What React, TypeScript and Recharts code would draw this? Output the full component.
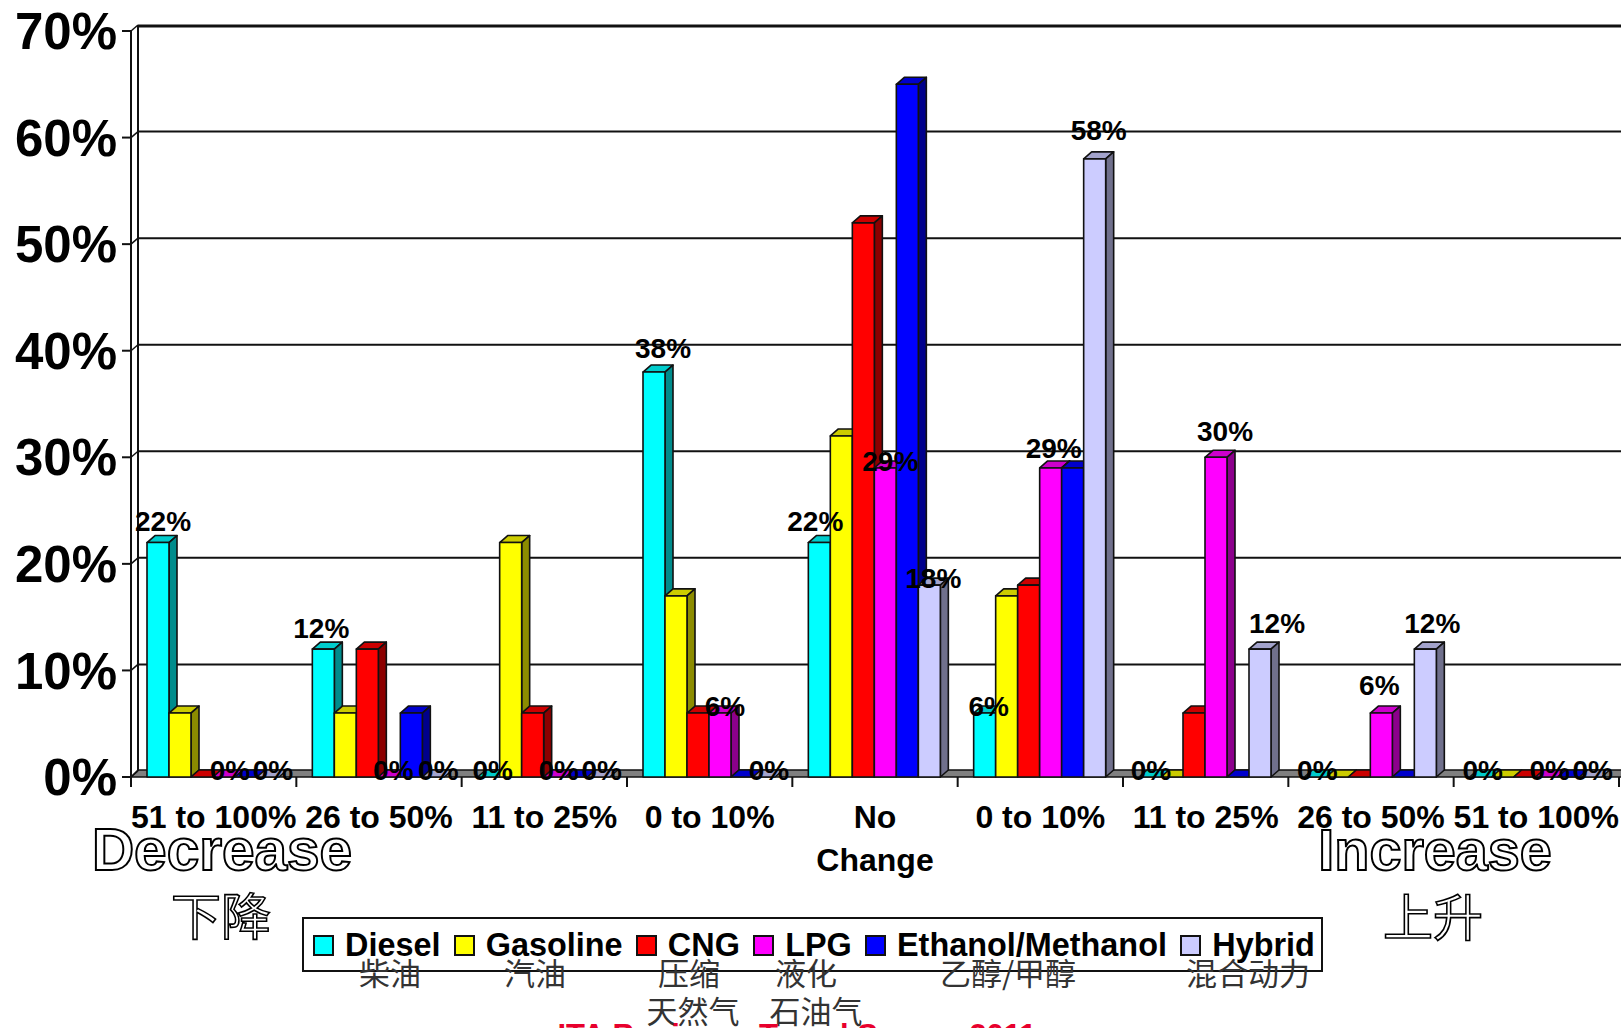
import React from 'react';
import { BarChart, Bar, XAxis, YAxis, CartesianGrid, Legend, LabelList } from 'recharts';

const bands = ['51 to 100%', '26 to 50%', '11 to 25%', '0 to 10%', 'No Change', '0 to 10%', '11 to 25%', '26 to 50%', '51 to 100%'];
const diesel = [22, 12, 0, 38, 22, 6, 0, 0, 0];
const gasoline = [6, 6, 22, 17, 32, 17, 0, 0, 0];
const cng = [0, 12, 6, 6, 52, 18, 6, 0, 0];
const lpg = [0, 0, 0, 6, 29, 29, 30, 6, 0];
const ethanol = [0, 6, 0, 0, 65, 29, 0, 0, 0];
const hybrid = [0, 0, 0, 0, 18, 58, 12, 12, 0];
const yTicks = [0, 10, 20, 30, 40, 50, 60, 70];

const chartData = bands.map((band, i) => ({
  band,
  diesel: diesel[i],
  gasoline: gasoline[i],
  cng: cng[i],
  lpg: lpg[i],
  ethanol: ethanol[i],
  hybrid: hybrid[i],
}));

const ARIAL = '"Liberation Sans", Arial, sans-serif';
const CJK = '"Noto Sans CJK SC", sans-serif';
const DX = 8;
const DY = 7;
const WALL_DY = 6;
const PLOT_TOP = 31;
const PLOT_BOTTOM = 777;
const BAND = (1621 - 2 - 131) / bands.length;
const BAR_SHIFT = -1;

// the labels in the original were placed by hand, so each one carries its own nudge
const labelLift: Record<string, number[]> = {
  diesel: [21, 21, 7, 24, 21, 7, 7, 7, 7],
  lpg: [7, 7, 7, 7, 6, 19, 26, 28, 7],
  hybrid: [7, 7, 7, 7, 7, 28, 26, 26, 7],
};
const labelNudge: Record<string, number[]> = {
  diesel: [5, -2, 4, 9, -4, 4, 1, 2, 2],
  lpg: [6, 4, 4, 5, 5, 3, 9, -2, 3],
  hybrid: [5, 5, 3, 5, 4, 4, 17, 7, 2],
};

const shade = (hex: string, k: number) => {
  const n = parseInt(hex.slice(1), 16);
  const c = [(n >> 16) & 255, (n >> 8) & 255, n & 255].map((v) => Math.round(v * k));
  return `rgb(${c[0]},${c[1]},${c[2]})`;
};

const Bar3D = (props: any) => {
  const { y, width, height, fill } = props;
  const x = props.x + BAR_SHIFT;
  return (
    <g stroke="#111" strokeWidth={1.6} strokeLinejoin="round">
      <polygon
        points={`${x},${y} ${x + DX},${y - DY} ${x + width + DX},${y - DY} ${x + width},${y}`}
        fill={shade(fill, 0.8)}
      />
      {height > 0 && (
        <>
          <polygon
            points={`${x + width},${y} ${x + width + DX},${y - DY} ${x + width + DX},${y + height - DY} ${x + width},${y + height}`}
            fill={shade(fill, 0.55)}
          />
          <rect x={x} y={y} width={width} height={height} fill={fill} />
        </>
      )}
    </g>
  );
};

// back wall lines, joined to the axis by a short diagonal, the floor goes in with the 0% line
const WallLine = (props: any) => {
  const { x1, x2, y1 } = props;
  const bx = x1 + DX - 1;
  const by = y1 - WALL_DY;
  const isFloor = Math.abs(y1 - PLOT_BOTTOM) < 2;
  const isTop = Math.abs(y1 - PLOT_TOP) < 2;
  return (
    <g>
      {isFloor && (
        <>
          <polygon points={`${x1},${y1} ${bx},${y1 - DY} ${x2 + 4},${y1 - DY} ${x2 + 4},${y1}`} fill="#808080" stroke="#111" strokeWidth={1.5} />
          <line x1={bx} y1={by} x2={bx} y2={PLOT_TOP - WALL_DY} stroke="#111" strokeWidth={2} />
        </>
      )}
      <line x1={x1} y1={y1} x2={bx} y2={by} stroke="#111" strokeWidth={1.5} />
      {!isFloor && <line x1={bx} y1={by + (isTop ? 1 : 0)} x2={x2 + 4} y2={by + (isTop ? 1 : 0)} stroke="#111" strokeWidth={isTop ? 3 : 2} />}
    </g>
  );
};

const BandTick = (props: any) => {
  const { x, payload, index } = props;
  const lines = payload.value === 'No Change' ? ['No', 'Change'] : [payload.value];
  const left = x - BAND / 2;
  return (
    <g>
      <line x1={left} y1={PLOT_BOTTOM} x2={left} y2={PLOT_BOTTOM + 10} stroke="#111" strokeWidth={2} />
      {index === bands.length - 1 && (
        <line x1={left + BAND} y1={PLOT_BOTTOM} x2={left + BAND} y2={PLOT_BOTTOM + 10} stroke="#111" strokeWidth={2} />
      )}
      <text x={x} textAnchor="middle" fontFamily={ARIAL} fontWeight="bold" fontSize={32} fill="#000">
        {lines.map((line: string, i: number) => (
          <tspan key={i} x={x} y={PLOT_BOTTOM + 51 + i * 43}>
            {line}
          </tspan>
        ))}
      </text>
    </g>
  );
};

const makeLabel = (key: string) => (props: any) => {
  const { x, y, width, value, index } = props;
  return (
    <text
      x={x + BAR_SHIFT + width / 2 + labelNudge[key][index]}
      y={y - labelLift[key][index]}
      textAnchor="middle"
      dominantBaseline="central"
      fontFamily={ARIAL}
      fontWeight="bold"
      fontSize={28}
      fill="#000"
    >
      {value}%
    </text>
  );
};

const LegendBox = ({ payload }: any) => (
  <div
    style={{
      boxSizing: 'border-box',
      width: 1021,
      height: 55,
      border: '2px solid #111',
      background: '#fff',
      display: 'flex',
      alignItems: 'center',
      paddingLeft: 9,
      paddingTop: 2,
      gap: 13.3,
      fontFamily: ARIAL,
      fontWeight: 'bold',
      fontSize: 32.4,
      color: '#000',
    }}
  >
    {(payload || []).map((item: any) => (
      <div key={item.value} style={{ display: 'flex', alignItems: 'center', gap: 11 }}>
        <span style={{ width: 21, height: 21, background: item.color, border: '2px solid #111', boxSizing: 'border-box' }} />
        <span>{item.value}</span>
      </div>
    ))}
  </div>
);

const outlined = { fill: '#fff', stroke: '#000', strokeWidth: 2 };
const zhOutlined = { fill: '#fff', stroke: '#000', strokeWidth: 1.6 };
const zhNote = { fontFamily: CJK, fontSize: 31, fill: '#333', textAnchor: 'middle' as const };

export default function App() {
  return (
    <div style={{ position: 'absolute', left: 0, top: 0, width: 1621, height: 1028, overflow: 'hidden', background: '#fff' }}>
      <BarChart
        width={1621}
        height={1028}
        data={chartData}
        margin={{ top: PLOT_TOP, right: 2, bottom: 0, left: 0 }}
        barGap={0}
        barCategoryGap={17}
      >
        <CartesianGrid vertical={false} horizontal={WallLine as any} />
        <XAxis
          dataKey="band"
          height={251}
          interval={0}
          tick={<BandTick />}
          tickLine={false}
          axisLine={false}
        />
        <YAxis
          width={131}
          domain={[0, 70]}
          ticks={yTicks}
          tickFormatter={(v: number) => `${v}%`}
          tick={{ fontFamily: ARIAL, fontWeight: 'bold', fontSize: 51, fill: '#000' }}
          tickSize={9}
          tickMargin={5}
          stroke="#111"
          strokeWidth={2}
          interval={0}
        />
        <Legend
          layout="horizontal"
          verticalAlign="middle"
          align="center"
          itemSorter={null}
          content={<LegendBox />}
          wrapperStyle={{ left: 302, top: 917, width: 1021, height: 55 }}
        />
        <Bar dataKey="diesel" name="Diesel" fill="#00FFFF" shape={Bar3D} isAnimationActive={false}>
          <LabelList dataKey="diesel" content={makeLabel('diesel')} />
        </Bar>
        <Bar dataKey="gasoline" name="Gasoline" fill="#FFFF00" shape={Bar3D} isAnimationActive={false} />
        <Bar dataKey="cng" name="CNG" fill="#FF0000" shape={Bar3D} isAnimationActive={false} />
        <Bar dataKey="lpg" name="LPG" fill="#FF00FF" shape={Bar3D} isAnimationActive={false}>
          <LabelList dataKey="lpg" content={makeLabel('lpg')} />
        </Bar>
        <Bar dataKey="ethanol" name="Ethanol/Methanol" fill="#0000FF" shape={Bar3D} isAnimationActive={false} />
        <Bar dataKey="hybrid" name="Hybrid" fill="#CCCCFF" shape={Bar3D} isAnimationActive={false}>
          <LabelList dataKey="hybrid" content={makeLabel('hybrid')} />
        </Bar>
      </BarChart>
      <svg width={1621} height={1028} style={{ position: 'absolute', left: 0, top: 0, pointerEvents: 'none' }}>
        <text x={222} y={870} textAnchor="middle" fontFamily={ARIAL} fontWeight="bold" fontSize={58.5} {...outlined}>Decrease</text>
        <text x={1435} y={870} textAnchor="middle" fontFamily={ARIAL} fontWeight="bold" fontSize={57.5} {...outlined}>Increase</text>
        <text x={221} y={935} textAnchor="middle" fontFamily={CJK} fontSize={50} {...zhOutlined}>下降</text>
        <text x={1433} y={936} textAnchor="middle" fontFamily={CJK} fontSize={50} {...zhOutlined}>上升</text>
        <text x={390} y={985} {...zhNote}>柴油</text>
        <text x={535} y={985} {...zhNote}>汽油</text>
        <text x={689} y={985} {...zhNote}>压缩</text>
        <text x={693} y={1023} {...zhNote}>天然气</text>
        <text x={806} y={985} {...zhNote}>液化</text>
        <text x={816} y={1023} {...zhNote}>石油气</text>
        <text x={1008} y={985} {...zhNote}>乙醇/甲醇</text>
        <text x={1248} y={985} {...zhNote}>混合动力</text>
        <text x={797} y={1046} textAnchor="middle" fontFamily={ARIAL} fontWeight="bold" fontSize={31} fill="#E8002D">ITA Business Travel Survey 2011</text>
      </svg>
    </div>
  );
}
